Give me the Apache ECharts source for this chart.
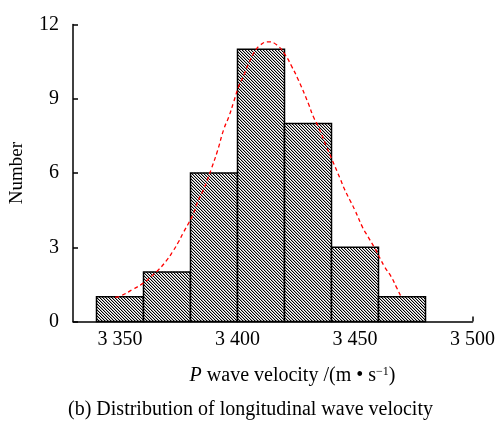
<!DOCTYPE html>
<html>
<head>
<meta charset="utf-8">
<script src="https://cdn.jsdelivr.net/npm/echarts@6/dist/echarts.min.js"></script>
<style>html,body{margin:0;padding:0;background:#fff}#c{width:498px;height:423px}</style>
</head>
<body>
<div id="c"></div>
<script>
// ---- data ----
var binStarts = [3340, 3360, 3380, 3400, 3420, 3440, 3460];
var binEnds   = [3360, 3380, 3400, 3420, 3440, 3460, 3480];
var counts    = [1, 2, 6, 11, 8, 3, 1];
var curveX = [3348, 3350.2, 3355.5, 3359.4, 3363.2, 3366.3, 3369.6, 3372.4, 3374.8, 3377.0, 3379.4, 3381.3, 3382.9, 3385.1, 3386.9, 3389.0, 3391.5, 3394.2, 3396.3, 3398.4, 3400.5, 3402.7, 3404.8, 3406.9, 3409.7, 3413.2, 3416.8, 3420.3, 3423.1, 3425.9, 3430.1, 3432.3, 3434.4, 3437.9, 3440.0, 3443.6, 3445.7, 3447.8, 3449.9, 3453.4, 3455.5, 3458.4, 3462.6, 3465.4, 3467.5, 3469.6];
var curveY = [0.98, 1.03, 1.30, 1.52, 1.81, 2.08, 2.44, 2.82, 3.20, 3.60, 4.01, 4.37, 4.80, 5.24, 5.65, 6.20, 6.90, 7.78, 8.27, 8.88, 9.49, 9.96, 10.43, 10.84, 11.17, 11.30, 11.17, 10.77, 10.30, 9.76, 8.82, 8.27, 7.87, 7.06, 6.59, 5.79, 5.31, 4.91, 4.51, 3.77, 3.43, 2.96, 2.21, 1.81, 1.41, 1.00];
var xTickValues = [3350, 3375, 3400, 3425, 3450, 3475, 3500];
var xLabelValues = [3350, 3400, 3450, 3500];
var yAxisName = 'Number';
var xAxisNameRich = '{i|P} wave velocity /(m \u2022 s{sup|\u22121})';
var caption = '(b) Distribution of longitudinal wave velocity';

// hatch pattern
var pc = document.createElement('canvas');
pc.width = 3; pc.height = 3;
var pctx = pc.getContext('2d');
pctx.fillStyle = '#fff'; pctx.fillRect(0, 0, 3, 3);
for (var yy = 0; yy < 3; yy++) {
  for (var xx = 0; xx < 3; xx++) {
    var d = ((xx - yy) % 3 + 3) % 3;
    if (d === 0) { pctx.fillStyle = '#000'; pctx.fillRect(xx, yy, 1, 1); }
    else if (d === 1) { pctx.fillStyle = '#b0b0b0'; pctx.fillRect(xx, yy, 1, 1); }
  }
}
var hatch = { image: pc, repeat: 'repeat' };

var histData = binStarts.map(function (s, i) { return [s, binEnds[i], counts[i]]; });
var curveData = curveX.map(function (x, i) { return [x, curveY[i]]; });

function fmtNum(v) {
  var s = String(v);
  return s.slice(0, 1) + ' ' + s.slice(1);
}

var FONT = '"Liberation Serif", "Times New Roman", serif';
var chart = echarts.init(document.getElementById('c'), null, { renderer: 'canvas' });
chart.setOption({
  backgroundColor: '#fff',
  animation: false,
  grid: { left: 73, right: 25, top: 24.5, bottom: 101.5, containLabel: false },
  xAxis: {
    type: 'value', min: 3330, max: 3500,
    axisLine: { show: true, onZero: false, lineStyle: { color: '#000', width: 1.5 } },
    axisTick: { show: true, inside: true, length: 5, customValues: xTickValues, lineStyle: { color: '#000', width: 1.5 } },
    axisLabel: { show: true, customValues: xLabelValues, formatter: fmtNum, color: '#000', fontFamily: FONT, fontSize: 20, margin: 8 },
    splitLine: { show: false }
  },
  yAxis: {
    type: 'value', min: 0, max: 12, interval: 3,
    axisLine: { show: true, lineStyle: { color: '#000', width: 1.5 } },
    axisTick: { show: true, inside: true, length: 5, lineStyle: { color: '#000', width: 1.5 } },
    axisLabel: { color: '#000', fontFamily: FONT, fontSize: 20, margin: 14 },
    splitLine: { show: false }
  },
  graphic: [
    { type: 'text', x: 17.5, y: 173, rotation: Math.PI / 2,
      style: { text: yAxisName, font: '19px ' + FONT, fill: '#000', align: 'center', verticalAlign: 'middle' } },
    { type: 'text', x: 292.5, y: 376,
      style: { text: xAxisNameRich, fill: '#000', align: 'center', verticalAlign: 'middle',
        font: '20px ' + FONT,
        rich: { i: { fontStyle: 'italic', fontFamily: FONT, fontSize: 20 }, sup: { fontFamily: FONT, fontSize: 12, verticalAlign: 'top', padding: [0, 0, 9, 0] } } } },
    { type: 'text', x: 250.5, y: 410,
      style: { text: caption, font: '20px ' + FONT, fill: '#000', align: 'center', verticalAlign: 'middle' } }
  ],
  series: [
    {
      type: 'custom',
      data: histData,
      encode: { x: [0, 1], y: 2 },
      z: 2,
      renderItem: function (params, api) {
        var p0 = api.coord([api.value(0), api.value(2)]);
        var p1 = api.coord([api.value(1), 0]);
        return {
          type: 'rect',
          shape: { x: p0[0], y: p0[1], width: p1[0] - p0[0], height: p1[1] - p0[1] },
          style: { fill: hatch, stroke: '#000', lineWidth: 1.5 }
        };
      }
    },
    {
      type: 'line',
      data: curveData,
      smooth: true,
      showSymbol: false,
      z: 5,
      lineStyle: { color: '#ff0000', width: 1.3, type: [4, 3] }
    }
  ]
});
</script>
</body>
</html>
